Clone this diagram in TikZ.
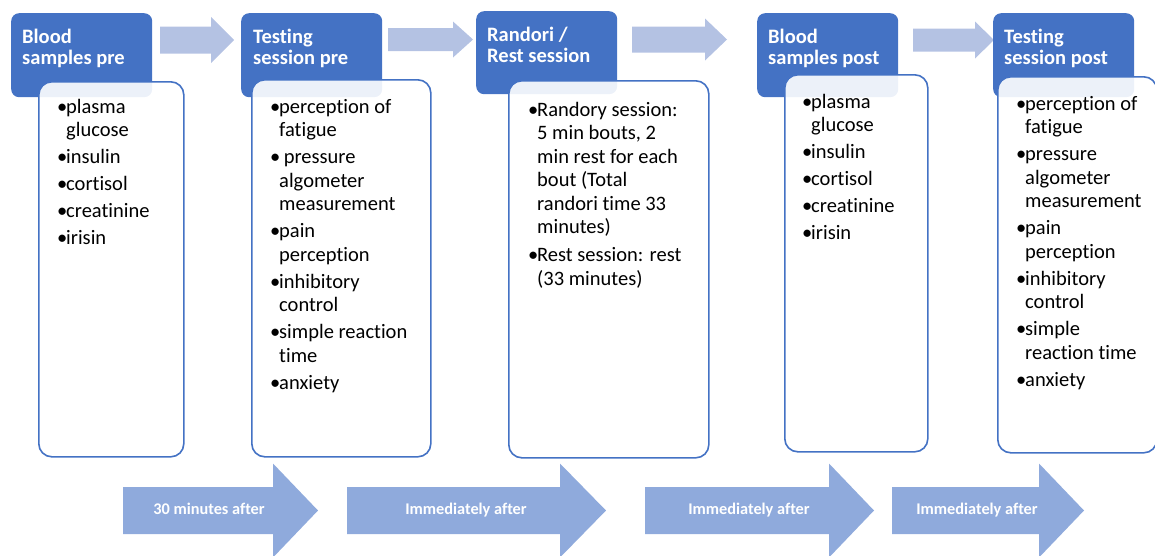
\documentclass[tikz,border=0pt]{standalone}
\usepackage{fontspec}
\setmainfont{Carlito}[Ligatures={NoCommon,NoRequired,NoContextual,NoRare},Contextuals={NoAlternate}]
\definecolor{hdrblue}{HTML}{4472C4}
\definecolor{steplight}{HTML}{B4C2E3}
\definecolor{timeblue}{HTML}{8FAADC}
% bullet item with hanging indent (bullet sits left of the text column)
\newcommand{\itm}[1]{\llap{\makebox[9pt][l]{•}}#1}
% block arrow: style, left x, head base x, tip x, centre y, shaft half height, head half height
\newcommand{\blockarrow}[7]{%
  \fill[#1] (#2,#5-#6) -- (#3,#5-#6) -- (#3,#5-#7) -- (#4,#5)
    -- (#3,#5+#7) -- (#3,#5+#6) -- (#2,#5+#6) -- cycle;}
\tikzset{
  hdr/.style={fill=hdrblue, rounded corners=8pt, anchor=north west, inner sep=0pt},
  hdrtext/.style={anchor=base west, inner sep=0pt, text=white,
    font=\fontsize{20.5}{21}\selectfont\bfseries},
  listbox/.style={draw=hdrblue, line width=1.6pt, fill=white, fill opacity=0.9,
    rounded corners=13pt, anchor=north west, inner sep=0pt},
  listtext/.style={anchor=base west, inner sep=0pt, font=\fontsize{20.5}{23.5}\selectfont},
  steparrow/.style={fill=steplight},
  timearrow/.style={fill=timeblue},
  timetext/.style={anchor=base, inner sep=0pt, text=white,
    font=\fontsize{16.3}{18}\selectfont\bfseries},
}
\begin{document}
\begin{tikzpicture}[x=1pt,y=-1pt]
\useasboundingbox (0,0) rectangle (1155,555);

% step arrows between the stages
\blockarrow{steparrow}{160}{211}{234}{40}{13.5}{23}
\blockarrow{steparrow}{388}{453}{473}{39.5}{11.5}{18}
\blockarrow{steparrow}{632}{705}{727}{39.5}{13}{21}
\blockarrow{steparrow}{913}{975}{994}{40}{11.5}{18.5}

% stage headers
\node[hdr, minimum width=141pt, minimum height=84pt] (h1) at (11,13) {};
\node[hdr, minimum width=141pt, minimum height=84pt] (h2) at (241,13) {};
\node[hdr, minimum width=141pt, minimum height=83pt] (h3) at (476,11) {};
\node[hdr, minimum width=141pt, minimum height=84pt] (h4) at (757,13) {};
\node[hdr, minimum width=141pt, minimum height=84pt] (h5) at (993,13) {};

\node[hdrtext] (t1) at (22,43) {\begin{tabular}[t]{@{}l@{}}Blood\\samples pre\end{tabular}};
\node[hdrtext] (t2) at (253,43) {\begin{tabular}[t]{@{}l@{}}Testing\\session pre\end{tabular}};
\node[hdrtext] (t3) at (487,41) {\begin{tabular}[t]{@{}l@{}}Randori /\\Rest session\end{tabular}};
\node[hdrtext] (t4) at (768,43) {\begin{tabular}[t]{@{}l@{}}Blood\\samples post\end{tabular}};
\node[hdrtext] (t5) at (1004,43) {\begin{tabular}[t]{@{}l@{}}Testing\\session post\end{tabular}};

% detail boxes
\node[listbox, minimum width=145pt, minimum height=375pt] (b1) at (38,81) {};
\node[listbox, minimum width=179pt, minimum height=377pt] (b2) at (251,79) {};
\node[listbox, minimum width=200pt, minimum height=377pt] (b3) at (508,80) {};
\node[listbox, minimum width=143pt, minimum height=377pt] (b4) at (784,74) {};
\node[listbox, minimum width=159pt, minimum height=376pt] (b5) at (997,76) {};

\node[listtext] (l1) at (66,113) {\begin{tabular}[t]{@{}l@{}}
\itm{plasma}\\ glucose\\[3.5pt]
\itm{insulin}\\[3.5pt]
\itm{cortisol}\\[3.5pt]
\itm{creatinine}\\[3.5pt]
\itm{irisin}
\end{tabular}};

\node[listtext] (l2) at (279,113) {\begin{tabular}[t]{@{}l@{}}
\itm{perception of}\\ fatigue\\[3.5pt]
\itm{\ pressure}\\ algometer\\ measurement\\[3.5pt]
\itm{pain}\\ perception\\[3.5pt]
\itm{inhibitory}\\ control\\[3.5pt]
\itm{simple reaction}\\ time\\[3.5pt]
\itm{anxiety}
\end{tabular}};

\node[listtext] (l3) at (537,116) {\begin{tabular}[t]{@{}l@{}}
\itm{Randory session:}\\ 5 min bouts, 2\\ min rest for each\\ bout (Total\\ randori time 33\\ minutes)\\[4.5pt]
\itm{Rest session: rest}\\ (33 minutes)
\end{tabular}};

\node[listtext] (l4) at (811,108) {\begin{tabular}[t]{@{}l@{}}
\itm{plasma}\\ glucose\\[3.5pt]
\itm{insulin}\\[3.5pt]
\itm{cortisol}\\[3.5pt]
\itm{creatinine}\\[3.5pt]
\itm{irisin}
\end{tabular}};

\node[listtext] (l5) at (1025,110) {\begin{tabular}[t]{@{}l@{}}
\itm{perception of}\\ fatigue\\[3.5pt]
\itm{pressure}\\ algometer\\ measurement\\[3.5pt]
\itm{pain}\\ perception\\[3.5pt]
\itm{inhibitory}\\ control\\[3.5pt]
\itm{simple}\\ reaction time\\[3.5pt]
\itm{anxiety}
\end{tabular}};

% timing arrows
\blockarrow{timearrow}{123}{273}{318}{510.5}{23.5}{47}
\blockarrow{timearrow}{347}{560}{606}{510.5}{23.5}{47}
\blockarrow{timearrow}{645}{829}{874}{510.5}{23.5}{47}
\blockarrow{timearrow}{892}{1039}{1084}{510.5}{23.5}{47}

\node[timetext] (d1) at (209,514) {30 minutes after};
\node[timetext] (d2) at (466,514) {Immediately after};
\node[timetext] (d3) at (749,514) {Immediately after};
\node[timetext] (d4) at (977,514) {Immediately after};
\end{tikzpicture}
\end{document}
